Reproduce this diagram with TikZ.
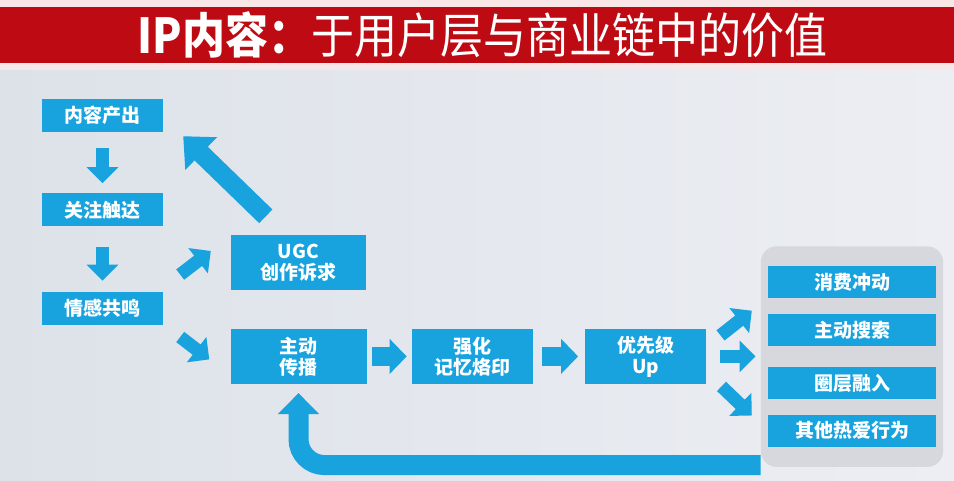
\documentclass[tikz,border=0pt]{standalone}
\usepackage{fontspec}
\newfontfamily\cjk{Noto Sans CJK SC}
\usetikzlibrary{%
  positioning,
  calc,
  fit,
  backgrounds,
  arrows.meta,
}
\definecolor{ipblue}{RGB}{24,163,222}
\definecolor{ipred}{RGB}{190,10,18}
\definecolor{bgleft}{RGB}{221,226,233}
\definecolor{bgright}{RGB}{236,238,243}
\definecolor{groupgray}{RGB}{214,216,221}

\begin{document}
\begin{tikzpicture}[%
           x=1pt, y=-1pt,
           node distance=61pt and 45pt,
           stage/.style={
             % The shape:
             rectangle,
             % The size:
             minimum width=121pt,
             minimum height=33pt,
             inner sep=0pt,
             % The filling:
             fill=ipblue,
             % The text:
             text=white,
             font=\cjk\bfseries\fontsize{19}{21}\selectfont,
             align=center,
           },
           wide/.style={
             stage,
             minimum height=55pt,
           },
           result/.style={
             stage,
             minimum width=168pt,
             minimum height=32pt,
           },
           push/.style={
             draw=ipblue,
             line width=13pt,
             -{Triangle[length=16pt,width=31pt]},
           },
           stub/.style={
             draw=ipblue,
             line width=19pt,
             -{Triangle[length=17pt,width=34pt]},
           },
           bigpush/.style={
             draw=ipblue,
             line width=19pt,
             -{Triangle[length=25pt,width=44pt]},
           },
           backflow/.style={
             draw=ipblue,
             line width=20pt,
             rounded corners=26pt,
             -{Triangle[length=21pt,width=40pt]},
           }]

         % title band
         \fill[ipred!10] (0,0) rectangle (954,70);
         \fill[ipred] (0,7) rectangle (954,63);
         \node[text=white, font=\cjk\fontsize{43}{46}\selectfont] (title) at (482.5,35)
           {\scalebox{1}[1.12]{\textbf{IP内容：}于用户层与商业链中的价值}};

         % left column
         \node[stage] (out) at (102.5,115.5) {内容产出};
         \node[stage] (reach) [below=61pt of out] {关注触达};
         \node[stage] (feel) [below=65pt of reach] {情感共鸣};

         % middle chain
         \node[wide, minimum width=135pt] (ugc) at (298.5,263) {UGC\\创作诉求};
         \node[wide, minimum width=136pt] (spread) [below=38pt of ugc] {主动\\传播};
         \node[wide] (fix) [right=45pt of spread] {强化\\记忆烙印};
         \node[wide] (up) [right=52pt of fix] {优先级\\Up};

         % results
         \node[result] (buy) at (852,282.5) {消费冲动};
         \node[result] (search) [below=15pt of buy] {主动搜索};
         \node[result] (join) [below=21pt of search] {圈层融入};
         \node[result] (other) [below=15pt of join] {其他热爱行为};

         \begin{scope}[on background layer]
           \shade[left color=bgleft, middle color=white, right color=bgright]
             (0,70) rectangle (954,481);
           \node[fill=groupgray, rounded corners=16pt, inner xsep=7pt,
                 inner ysep=20pt, fit=(buy)(other)] (group) {};
         \end{scope}

         \draw[push, shorten <=16pt, shorten >=10pt] (out.south) -- (reach.north);
         \draw[push, shorten <=20pt, shorten >=11pt] (reach.south) -- (feel.north);
         \draw[push] ($(feel.north east)+(17,-17)$) -- ($(ugc.west)+(-20,-12)$);
         \draw[push] ($(feel.south east)+(17,12)$) -- ($(spread.west)+(-21,3)$);
         \draw[bigpush] ($(ugc.north west)+(35,-19)$) -- ($(out.south east)+(20,4)$);

         \draw[stub, shorten <=5pt, shorten >=5pt] (spread.east) -- (fix.west);
         \draw[stub, shorten <=9pt, shorten >=7pt] (fix.east) -- (up.west);

         \draw[push] ($(up.east)+(14,-21)$) -- ($(buy.south west)+(-16,12)$);
         \draw[push, shorten <=13pt, shorten >=5pt] (up.east) -- (up.east -| group.west);
         \draw[push] ($(up.east)+(15,30)$) -- ($(other.north west)+(-16,1)$);

         \draw[backflow, shorten >=9pt] ($(group.south west)+(0,-2)$) -| (spread.south);

         \useasboundingbox (0,0) rectangle (954,481);
     \end{tikzpicture}
\end{document}
